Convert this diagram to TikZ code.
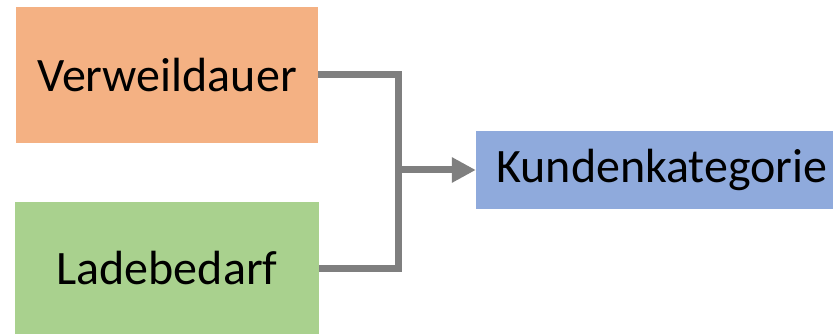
\documentclass[tikz,border=0pt]{standalone}
\usepackage{fontspec}
\setmainfont{Carlito}
\usetikzlibrary{arrows.meta}
\definecolor{boxorange}{HTML}{F4B183}
\definecolor{boxgreen}{HTML}{A9D18E}
\definecolor{boxblue}{HTML}{8FAADC}
\definecolor{linegray}{HTML}{7F7F7F}
\tikzset{
  box/.style={rectangle, inner sep=0pt, draw=none, text=black, font=\fontsize{48}{52}\selectfont},
  conn/.style={draw=linegray, line width=7pt, line join=miter}
}
\begin{document}
\begin{tikzpicture}[x=1pt,y=-1pt]
\useasboundingbox (0,0) rectangle (833,334);
\node[box, fill=boxorange, minimum width=302pt, minimum height=136pt] (v) at (167,75) {Verweildauer};
\node[box, fill=boxgreen, minimum width=304pt, minimum height=132pt] (l) at (167,268) {Ladebedarf};
\node[box, fill=boxblue, minimum width=357pt, minimum height=77pt] (k) at (654.5,170) {\hspace{15pt}Kundenkategorie};
\coordinate (j) at (398,170);
\draw[conn] (v.east) -| (j) |- (l.east);
\draw[conn, -{Triangle[length=24pt,width=24pt]}] (j) -- (k.west);
\end{tikzpicture}
\end{document}
